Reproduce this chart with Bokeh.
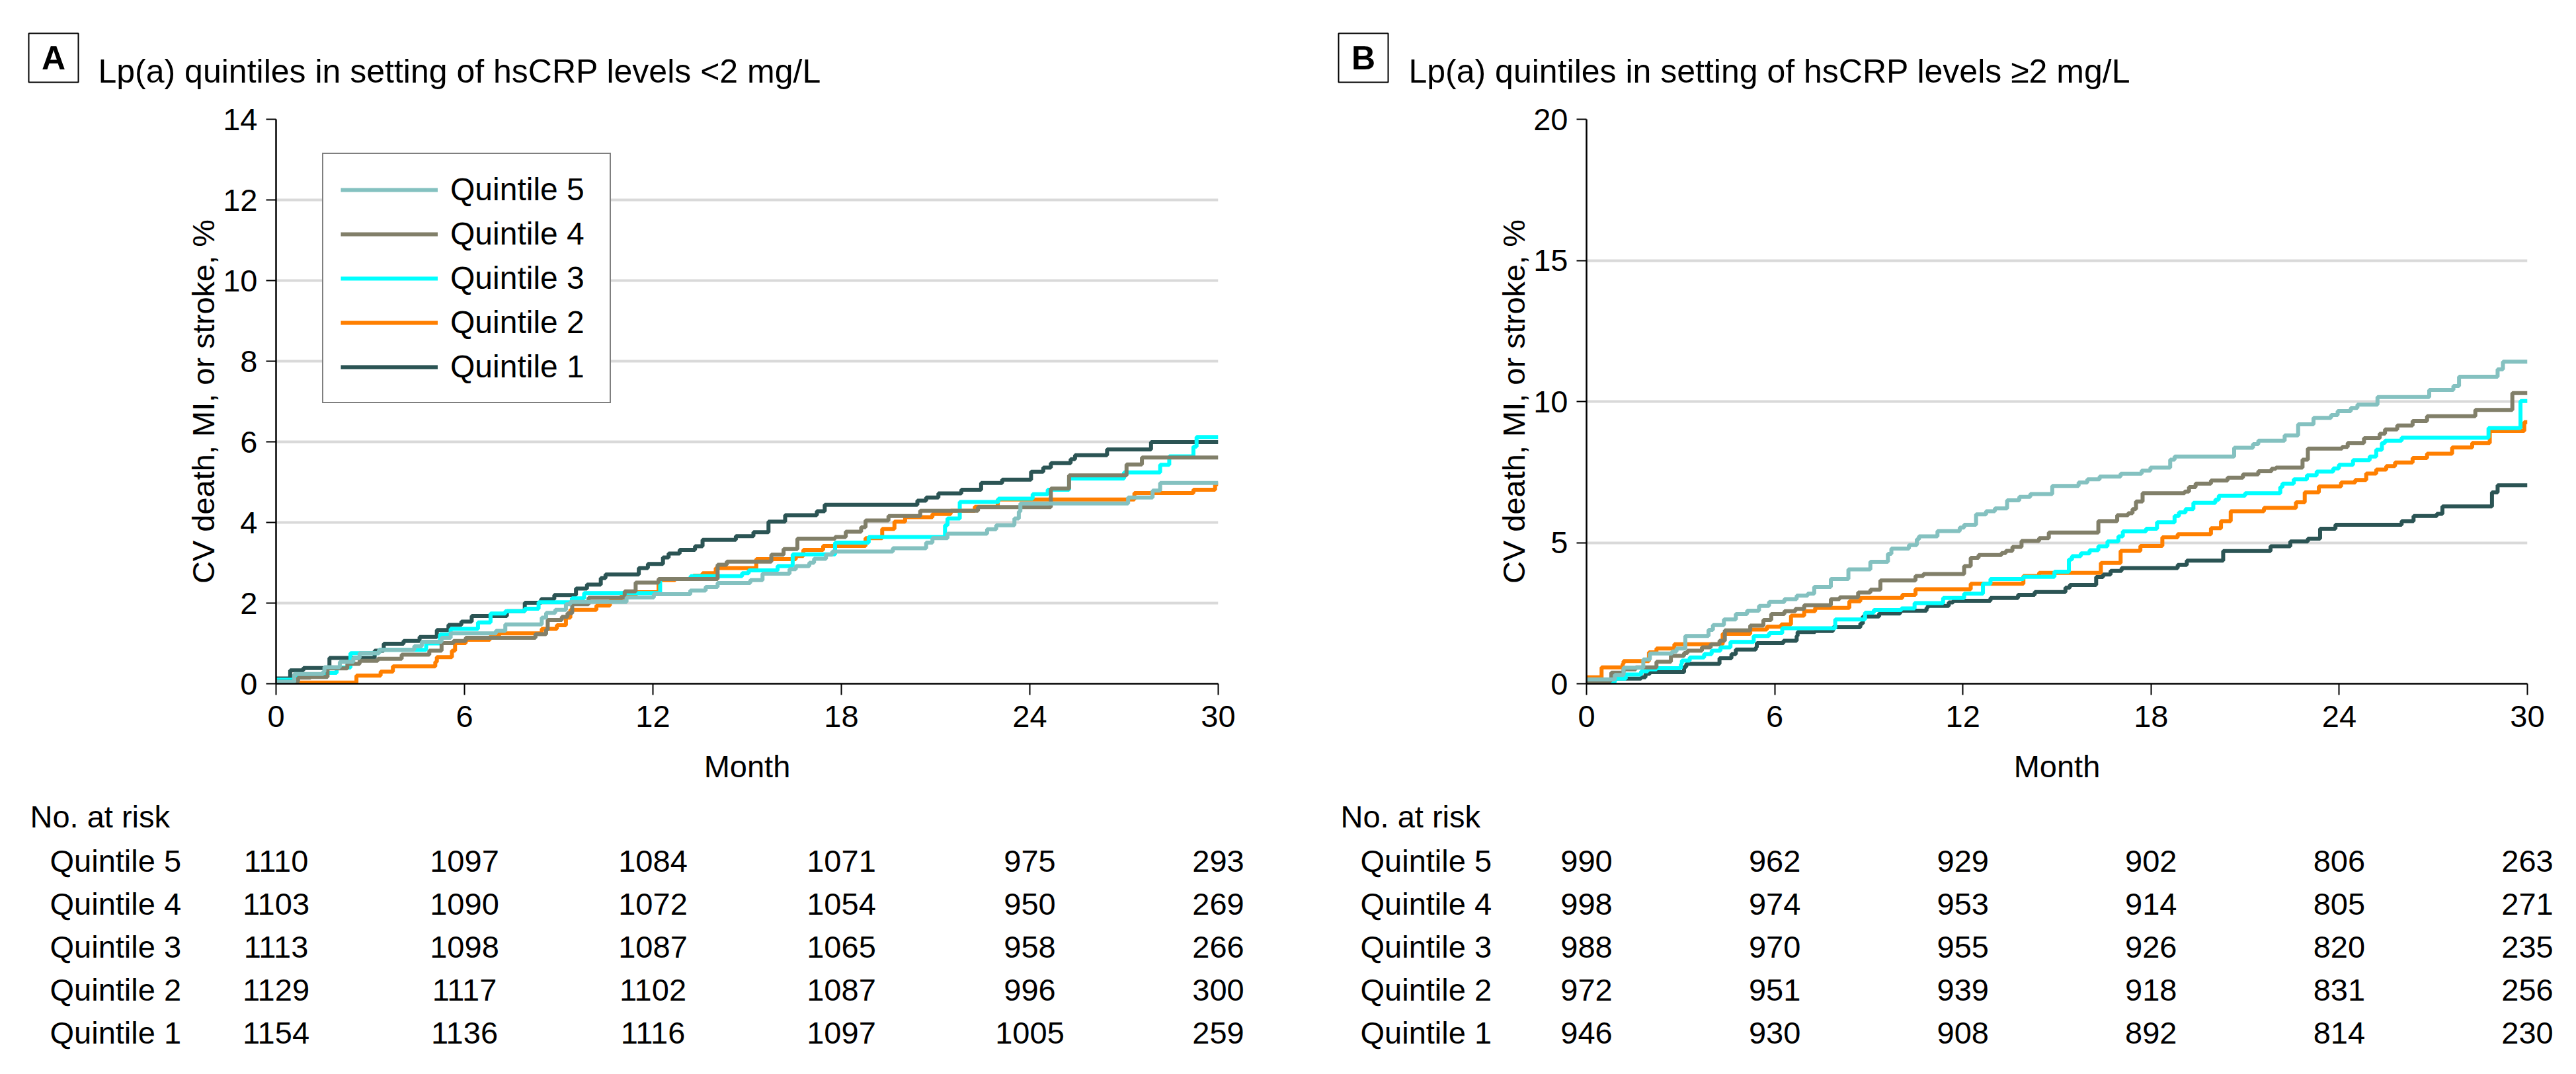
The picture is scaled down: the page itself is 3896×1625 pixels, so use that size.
from bokeh.plotting import figure
from bokeh.models import Range1d, FixedTicker, Legend, LegendItem
from bokeh.layouts import row, column
from bokeh.core.properties import value
from bokeh.embed import file_html
from bokeh.resources import INLINE

FONT = "Liberation Sans"

MONTH_TICKS = [0, 6, 12, 18, 24, 30]
QUINTILES = ["Quintile 5", "Quintile 4", "Quintile 3", "Quintile 2", "Quintile 1"]
COLORS = ["#84C1C0", "#817F69", "#00FFFF", "#FF7F00", "#2B5454"]

A_TITLE = "Lp(a) quintiles in setting of hsCRP levels <2 mg/L"
B_TITLE = "Lp(a) quintiles in setting of hsCRP levels \u22652 mg/L"
A_YTICKS = [0, 2, 4, 6, 8, 10, 12, 14]
B_YTICKS = [0, 5, 10, 15, 20]
Y_LABEL = "CV death, MI, or stroke, %"
X_LABEL = "Month"
RISK_HEADER = "No. at risk"

# ---------------- Panel A (hsCRP < 2 mg/L) ----------------
A_Q5_X = [0, 0.58, 1.5, 1.54, 2.03, 2.46, 2.66, 3.28, 4.4, 4.64, 5.27, 5.56, 7.0, 7.3, 8.46, 8.6, 8.89, 9.23, 9.37, 11.16,
          12.03, 13.19, 13.68, 14.06, 15.1, 15.49, 16.35, 16.55, 16.98, 17.13, 17.51, 17.71, 19.64, 20.7, 20.9, 21.38,
          22.64, 22.93, 23.51, 23.65, 23.7, 27.13, 27.91, 28.15, 30]
A_Q5_Y = [0.04, 0.24, 0.30, 0.41, 0.54, 0.64, 0.76, 0.84, 0.93, 1.04, 1.14, 1.25, 1.31, 1.47, 1.64, 1.76, 1.83, 1.97, 2.03, 2.14,
          2.22, 2.31, 2.40, 2.50, 2.57, 2.73, 2.84, 2.92, 3.0, 3.1, 3.2, 3.28, 3.36, 3.5, 3.61, 3.72,
          3.83, 3.93, 4.10, 4.27, 4.47, 4.62, 4.79, 4.98, 4.98]

A_Q4_X = [0, 0.7, 1.1, 1.64, 2.27, 2.66, 3.24, 4.0, 4.88, 5.27, 5.65, 6.04, 8.26, 8.6, 8.65, 9.1, 9.28, 9.43, 9.95, 11.1,
          11.45, 12.18, 14.06, 14.35, 15.77, 16.16, 16.6, 17.8, 18.14, 18.63, 18.77, 19.5, 20.51, 22.35, 24.67, 25.25,
          27.08, 27.57, 30]
A_Q4_Y = [0.05, 0.15, 0.17, 0.38, 0.49, 0.57, 0.62, 0.72, 0.82, 1.01, 1.06, 1.14, 1.23, 1.34, 1.58, 1.66, 1.75, 1.97, 2.13, 2.29,
          2.51, 2.60, 2.95, 3.03, 3.20, 3.34, 3.6, 3.64, 3.77, 3.88, 4.05, 4.16, 4.29, 4.38, 4.84, 5.17,
          5.44, 5.61, 5.61]

A_Q3_X = [0, 0.58, 1.59, 1.93, 2.37, 3.28, 4.78, 5.22, 5.56, 6.43, 6.83, 7.3, 7.92, 8.36, 9.42, 9.81, 12.23, 13.2, 14.84,
          15.05, 15.97, 16.45, 17.8, 18.87, 21.3, 21.38, 21.77, 23.0, 24.09, 24.57, 25.25, 27.0, 28.15, 28.44, 29.21,
          29.31, 30]
A_Q3_Y = [0.1, 0.21, 0.27, 0.4, 0.76, 0.84, 1.0, 1.22, 1.36, 1.52, 1.74, 1.80, 1.86, 2.02, 2.12, 2.25, 2.60, 2.67, 2.74,
          2.81, 2.92, 3.21, 3.5, 3.64, 3.93, 4.10, 4.51, 4.59, 4.70, 4.81, 5.09, 5.24, 5.43, 5.64, 5.88,
          6.12, 6.12]

A_Q2_X = [0, 2.56, 3.33, 3.72, 5.07, 5.12, 5.6, 5.7, 6.04, 6.81, 7.1, 8.46, 8.94, 9.23, 9.37, 10.2, 10.63, 10.97, 11.45,
          12.18, 12.71, 13.29, 13.58, 14.0, 15.29, 16.55, 16.79, 17.42, 18.77, 19.3, 19.69, 20.03, 20.9, 21.48, 22.25,
          22.98, 27.33, 29.21, 29.9, 30]
A_Q2_Y = [0.03, 0.2, 0.30, 0.43, 0.54, 0.66, 0.82, 1.01, 1.09, 1.17, 1.25, 1.36, 1.45, 1.64, 1.83, 1.94, 2.05, 2.16, 2.27,
          2.57, 2.60, 2.68, 2.74, 2.87, 3.09, 3.17, 3.32, 3.42, 3.61, 3.84, 4.02, 4.13, 4.21, 4.29, 4.39,
          4.57, 4.73, 4.81, 4.95, 4.95]

A_Q1_X = [0, 0.45, 0.87, 1.7, 3.14, 3.43, 4.06, 4.57, 5.12, 5.49, 5.9, 6.23, 7.35, 7.92, 8.44, 8.86, 9.55, 9.9, 10.34,
          10.49, 11.55, 11.84, 12.32, 12.5, 12.85, 13.34, 13.58, 14.64, 15.2, 15.68, 16.21, 17.22, 17.47, 20.42, 20.7,
          21.09, 21.82, 22.45, 23.12, 24.04, 24.43, 24.67, 25.3, 25.44, 26.46, 27.86, 30]
A_Q1_Y = [0.13, 0.33, 0.39, 0.64, 0.82, 0.99, 1.06, 1.16, 1.33, 1.46, 1.54, 1.68, 1.80, 2.01, 2.10, 2.20, 2.36, 2.46, 2.62,
          2.71, 2.87, 2.97, 3.13, 3.23, 3.32, 3.41, 3.57, 3.66, 3.76, 4.02, 4.18, 4.28, 4.44, 4.54, 4.62,
          4.72, 4.81, 4.98, 5.06, 5.26, 5.36, 5.47, 5.57, 5.67, 5.81, 5.99, 5.99]

RISK_A_Q5 = [1110, 1097, 1084, 1071, 975, 293]
RISK_A_Q4 = [1103, 1090, 1072, 1054, 950, 269]
RISK_A_Q3 = [1113, 1098, 1087, 1065, 958, 266]
RISK_A_Q2 = [1129, 1117, 1102, 1087, 996, 300]
RISK_A_Q1 = [1154, 1136, 1116, 1097, 1005, 259]

# ---------------- Panel B (hsCRP >= 2 mg/L) ----------------
B_Q5_X = [0, 0.9, 1.18, 1.81, 2.02, 2.73, 2.87, 3.15, 3.89, 4.03, 4.38, 4.76, 5.12, 5.5, 5.82, 6.31, 6.7, 7.05, 7.26, 7.79,
          8.35, 9.05, 9.61, 9.72, 10.28, 10.53, 10.6, 11.19, 11.9, 12.04, 12.42, 12.74, 13.02, 13.41, 13.8, 14.15, 14.85,
          15.69, 15.97, 16.36, 17.03, 17.7, 17.98, 18.61, 18.75, 20.65, 21.25, 21.42, 22.26, 22.69, 23.18, 23.74, 23.95,
          24.37, 24.58, 25.22, 26.87, 27.64, 27.82, 29.05, 29.22, 30]
B_Q5_Y = [0.15, 0.31, 0.57, 0.86, 1.07, 1.14, 1.25, 1.69, 1.91, 2.08, 2.28, 2.47, 2.59, 2.76, 2.9, 3.0, 3.12, 3.19, 3.43, 3.71,
          4.05, 4.32, 4.6, 4.79, 4.91, 5.12, 5.22, 5.41, 5.53, 5.63, 6.0, 6.11, 6.21, 6.5, 6.62, 6.72, 7.01,
          7.13, 7.24, 7.34, 7.44, 7.55, 7.66, 7.94, 8.05, 8.36, 8.49, 8.61, 8.80, 9.19, 9.42, 9.52, 9.66,
          9.77, 9.89, 10.16, 10.41, 10.55, 10.88, 11.14, 11.41, 11.41]

B_Q4_X = [0, 0.76, 0.79, 1.18, 1.57, 2.23, 2.69, 3.11, 3.22, 3.68, 3.96, 4.24, 4.41, 5.22, 5.64, 5.89, 6.31, 6.66, 6.94,
          7.79, 8.07, 8.66, 9.05, 9.37, 10.49, 10.74, 12.04, 12.25, 12.5, 13.23, 13.37, 13.58, 13.87, 14.43, 14.74,
          16.32, 16.92, 17.27, 17.41, 17.52, 17.73, 19.07, 19.21, 19.42, 19.91, 20.44, 20.93, 21.42, 21.84, 21.98,
          22.83, 23.0, 24.09, 24.27, 24.79, 25.29, 25.46, 25.85, 26.34, 26.8, 28.34, 29.52, 30]
B_Q4_Y = [0.08, 0.19, 0.39, 0.51, 0.58, 0.78, 0.99, 1.09, 1.17, 1.29, 1.4, 1.52, 1.89, 2.06, 2.26, 2.47, 2.57, 2.65, 2.78,
          3.0, 3.06, 3.23, 3.33, 3.66, 3.82, 3.89, 4.17, 4.46, 4.56, 4.63, 4.71, 4.85, 5.06, 5.16, 5.36,
          5.76, 5.97, 6.04, 6.19, 6.46, 6.75, 6.81, 6.97, 7.09, 7.2, 7.3, 7.42, 7.53, 7.62, 7.66,
          7.94, 8.33, 8.39, 8.53, 8.7, 8.86, 9.01, 9.15, 9.31, 9.48, 9.7, 10.3, 10.3]

B_Q3_X = [0, 0.9, 1.25, 1.74, 1.95, 2.23, 3.01, 3.04, 3.29, 3.75, 3.99, 4.27, 4.59, 5.33, 5.82, 6.24, 7.93, 8.88, 9.16,
          10.04, 10.46, 11.37, 12.04, 12.64, 12.88, 13.93, 14.92, 15.38, 15.48, 15.76, 16.04, 16.32, 16.61, 16.96,
          17.1, 17.84, 18.19, 18.75, 18.89, 19.1, 19.35, 20.05, 20.16, 21.0, 22.12, 22.19, 22.55, 22.97, 23.28, 23.81,
          23.99, 24.44, 24.97, 25.18, 25.36, 25.46, 25.99, 28.76, 29.78, 30]
B_Q3_Y = [0.05, 0.18, 0.33, 0.44, 0.51, 0.55, 0.7, 0.82, 0.93, 1.05, 1.17, 1.29, 1.48, 1.69, 1.79, 1.97, 2.28, 2.52, 2.61,
          2.67, 2.86, 3.04, 3.19, 3.54, 3.71, 3.79, 3.97, 4.4, 4.52, 4.62, 4.73, 4.87, 5.04, 5.22,
          5.40, 5.49, 5.72, 5.94, 6.07, 6.19, 6.41, 6.52, 6.66, 6.75, 6.97, 7.09, 7.24, 7.38, 7.52, 7.63,
          7.76, 7.92, 8.05, 8.29, 8.53, 8.61, 8.72, 9.06, 10.02, 10.02]

B_Q2_X = [0, 0.48, 1.15, 1.18, 1.99, 2.23, 2.8, 4.34, 5.22, 5.75, 6.21, 6.52, 6.94, 7.29, 8.38, 8.73, 10.07, 10.49, 12.25,
          13.93, 14.43, 16.4, 17.03, 17.66, 18.36, 18.85, 19.91, 20.23, 20.54, 21.6, 22.62, 22.9, 23.35, 24.06, 24.51,
          24.86, 25.18, 25.5, 25.78, 26.34, 26.8, 27.6, 28.24, 28.8, 29.9, 30]
B_Q2_Y = [0.23, 0.58, 0.70, 0.80, 1.11, 1.25, 1.4, 1.77, 1.92, 2.02, 2.1, 2.41, 2.57, 2.69, 2.92, 3.04, 3.15, 3.35, 3.54,
          3.82, 3.93, 4.28, 4.71, 4.88, 5.19, 5.3, 5.51, 5.76, 6.11, 6.23, 6.43, 6.78, 6.99, 7.13, 7.22,
          7.45, 7.59, 7.71, 7.84, 8.0, 8.15, 8.37, 8.53, 8.96, 9.27, 9.27]

B_Q1_X = [0, 0.76, 0.9, 1.74, 1.88, 2.02, 3.11, 3.18, 4.24, 4.62, 4.76, 5.4, 5.43, 6.28, 6.7, 6.73, 7.29, 7.86, 8.73, 8.81,
          9.33, 10.0, 10.84, 10.88, 11.55, 11.69, 12.88, 13.76, 14.29, 15.27, 15.41, 16.25, 16.47, 16.71, 17.06, 18.85,
          19.14, 20.3, 21.81, 22.44, 23.0, 23.39, 23.88, 25.99, 26.37, 27.11, 27.29, 28.87, 29.05, 30]
B_Q1_Y = [0.04, 0.1, 0.18, 0.23, 0.35, 0.41, 0.6, 0.7, 0.9, 1.05, 1.21, 1.29, 1.44, 1.52, 1.69, 1.83, 1.87, 2.0, 2.13, 2.38,
          2.49, 2.59, 2.69, 2.76, 2.88, 2.94, 3.04, 3.15, 3.25, 3.4, 3.5, 3.78, 3.87, 4.0, 4.1, 4.21,
          4.36, 4.7, 4.87, 5.04, 5.14, 5.49, 5.63, 5.76, 5.94, 6.02, 6.28, 6.78, 7.03, 7.03]

RISK_B_Q5 = [990, 962, 929, 902, 806, 263]
RISK_B_Q4 = [998, 974, 953, 914, 805, 271]
RISK_B_Q3 = [988, 970, 955, 926, 820, 235]
RISK_B_Q2 = [972, 951, 939, 918, 831, 256]
RISK_B_Q1 = [946, 930, 908, 892, 814, 230]

# ---------------- layout (pixels) ----------------
HEADER_H = 150
PLOT_TOP = 30
FRAME_H = 854
PLOT_BOTTOM = 156
PLOT_H = PLOT_TOP + FRAME_H + PLOT_BOTTOM
TABLE_H = 1609 - HEADER_H - PLOT_H
TXT = "47px"
TITLE_SIZE = "50px"
TABLE_HEADER_Y = 374
TABLE_ROW_Y = [307, 242, 177, 112, 47]


def bare_figure(width, height, xr, yr):
    f = figure(width=width, height=height, x_range=xr, y_range=yr,
               output_backend="svg", toolbar_location=None,
               x_axis_location=None, y_axis_location=None,
               min_border=0, frame_align=False)
    f.outline_line_color = None
    f.grid.visible = False
    f.background_fill_color = "white"
    f.border_fill_color = "white"
    return f


def make_panel(letter, title, ymax, yticks, xs, ys, risk, width, left, right,
               box_cx, title_x, name_x, header_x, with_legend):
    frame_w = width - left - right
    px_per_month = frame_w / 30.0

    # ---- header: boxed letter + title ----
    h = bare_figure(width, HEADER_H, Range1d(0, width), Range1d(0, HEADER_H))
    h.rect(x=[box_cx], y=[63], width=75, height=74, fill_color=None,
           line_color="black", line_width=2)
    h.text(x=[box_cx], y=[63], text=[letter], text_font=value(FONT), text_font_size=value(TITLE_SIZE),
           text_font_style="bold", text_align="center", text_baseline="middle", text_color="black")
    h.text(x=[title_x], y=[43], text=[title], text_font=value(FONT), text_font_size=value(TITLE_SIZE),
           text_align="left", text_baseline="alphabetic", text_color="black")

    # ---- plot ----
    p = figure(width=width, height=PLOT_H, x_range=Range1d(0, 30), y_range=Range1d(0, ymax),
               output_backend="svg", toolbar_location=None,
               min_border_left=left, min_border_right=right,
               min_border_top=PLOT_TOP, min_border_bottom=PLOT_BOTTOM, frame_align=False)
    p.outline_line_color = None
    p.background_fill_color = "white"
    p.border_fill_color = "white"
    p.xgrid.visible = False
    p.ygrid.ticker = FixedTicker(ticks=yticks)
    p.ygrid.grid_line_color = "#d9d9d9"
    p.ygrid.grid_line_width = 4
    p.xaxis.ticker = FixedTicker(ticks=MONTH_TICKS)
    p.yaxis.ticker = FixedTicker(ticks=yticks)
    for ax in (p.xaxis, p.yaxis):
        ax.axis_line_color = "black"
        ax.axis_line_width = 2.5
        ax.major_tick_line_color = "black"
        ax.major_tick_line_width = 2
        ax.major_tick_in = 0
        ax.minor_tick_line_color = None
        ax.major_label_text_font = FONT
        ax.major_label_text_font_size = TXT
        ax.major_label_text_color = "black"
        ax.axis_label_text_font = FONT
        ax.axis_label_text_font_size = TXT
        ax.axis_label_text_font_style = "normal"
        ax.axis_label_text_color = "black"
    p.xaxis.major_tick_out = 17
    p.xaxis.major_label_standoff = 16
    p.xaxis.axis_label = X_LABEL
    p.xaxis.axis_label_standoff = 30
    p.yaxis.major_tick_out = 15
    p.yaxis.major_label_standoff = 13
    p.yaxis.axis_label = Y_LABEL
    p.yaxis.axis_label_standoff = 0

    renderers = [None] * 5
    for i in reversed(range(5)):
        renderers[i] = p.step(xs[i], ys[i], mode="after", line_width=6, line_color=COLORS[i])

    if with_legend:
        legend = Legend(items=[LegendItem(label=q, renderers=[r]) for q, r in zip(QUINTILES, renderers)],
                        location=(70, 424), orientation="vertical")
        legend.label_text_font = FONT
        legend.label_text_font_size = "48px"
        legend.label_text_color = "black"
        legend.border_line_color = "black"
        legend.border_line_width = 2
        legend.background_fill_color = "white"
        legend.background_fill_alpha = 1
        legend.glyph_width = 147
        legend.glyph_height = 40
        legend.label_height = 40
        legend.label_width = 215
        legend.spacing = 12
        legend.padding = 26
        legend.margin = 0
        legend.label_standoff = 19
        p.add_layout(legend)

    # ---- number-at-risk table (x in months, aligned with the plot frame) ----
    t = bare_figure(width, TABLE_H,
                    Range1d(-left / px_per_month, (width - left) / px_per_month),
                    Range1d(0, TABLE_H))
    t.text(x=[(header_x - left) / px_per_month], y=[TABLE_HEADER_Y], text=[RISK_HEADER],
           text_font=value(FONT), text_font_size=value(TXT), text_align="left",
           text_baseline="alphabetic", text_color="black")
    t.text(x=[(name_x - left) / px_per_month] * 5, y=TABLE_ROW_Y, text=QUINTILES,
           text_font=value(FONT), text_font_size=value(TXT), text_align="left",
           text_baseline="alphabetic", text_color="black")
    tx, ty, tt = [], [], []
    for vals, yb in zip(risk, TABLE_ROW_Y):
        for m, v in zip(MONTH_TICKS, vals):
            tx.append(m)
            ty.append(yb)
            tt.append(str(v))
    t.text(x=tx, y=ty, text=tt, text_font=value(FONT), text_font_size=value(TXT),
           text_align="center", text_baseline="alphabetic", text_color="black")

    return column(h, p, t, spacing=0)


pa = make_panel("A", A_TITLE, 14, A_YTICKS,
                [A_Q5_X, A_Q4_X, A_Q3_X, A_Q2_X, A_Q1_X],
                [A_Q5_Y, A_Q4_Y, A_Q3_Y, A_Q2_Y, A_Q1_Y],
                [RISK_A_Q5, RISK_A_Q4, RISK_A_Q3, RISK_A_Q2, RISK_A_Q1],
                1948, 417, 106, 80.5, 148, 75, 45, True)
pb = make_panel("B", B_TITLE, 20, B_YTICKS,
                [B_Q5_X, B_Q4_X, B_Q3_X, B_Q2_X, B_Q1_X],
                [B_Q5_Y, B_Q4_Y, B_Q3_Y, B_Q2_Y, B_Q1_Y],
                [RISK_B_Q5, RISK_B_Q4, RISK_B_Q3, RISK_B_Q2, RISK_B_Q1],
                1932, 451, 58, 113.5, 182, 109, 79, False)

layout = row(pa, pb, spacing=0)
open("out.html", "w").write(file_html(layout, INLINE))
